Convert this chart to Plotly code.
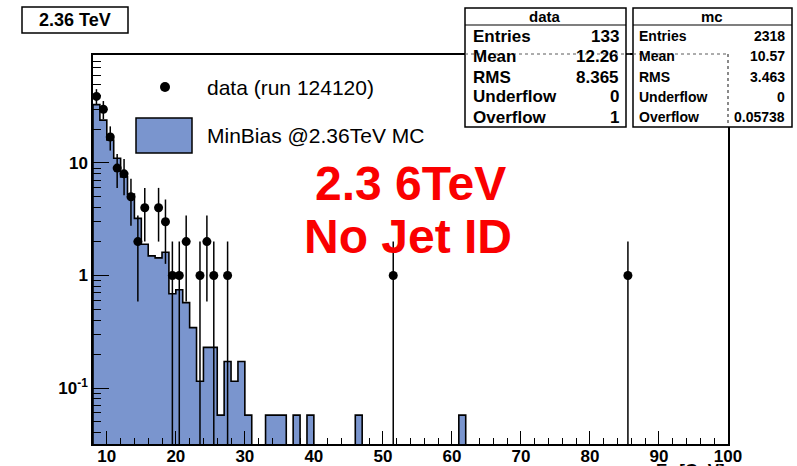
import numpy as np
import plotly.graph_objects as go

# ---------------- data ----------------
# Data histogram (1-unit bins), bin centres and counts
data_x = [8.5, 9.5, 10.5, 11.5, 12.5, 13.5, 14.5, 15.5, 17.5, 18.5,
          19.5, 20.5, 21.5, 23.5, 24.5, 25.5, 27.5, 51.5, 85.5]
data_n = [39, 30, 17, 9, 8, 5, 2, 4, 4, 3,
          1, 1, 2, 1, 2, 1, 1, 1, 1]

# MC histogram: lower bin edges (1-unit bins) and raw MC counts
mc_bin_low = [8, 9, 10, 11, 12, 13, 14, 15, 16, 17, 18, 19, 20, 21, 22,
              23, 24, 25, 26, 27, 28, 29, 30, 33, 34, 35, 37, 39, 46, 61]
mc_counts = [575, 418, 279, 192, 131, 92, 56, 33, 26, 25, 28, 12, 13, 10, 6,
             2, 4, 4, 1, 3, 2, 3, 1, 1, 1, 1, 1, 1, 1, 1]

# statistics boxes
data_entries, mc_entries = 133, 2318
data_stats = [("Entries", "133"), ("Mean", "12.26"), ("RMS", "8.365"),
              ("Underflow", "0"), ("Overflow", "1")]
mc_stats = [("Entries", "2318"), ("Mean", "10.57"), ("RMS", "3.463"),
            ("Underflow", "0"), ("Overflow", "0.05738")]

x_ticks = [10, 20, 30, 40, 50, 60, 70, 80, 90, 100]
y_ticks = [0.1, 1, 10]
y_ticktext = ["10<sup>-1</sup>", "1", "10"]

# ---------------- derived ----------------
mc_weight = data_entries / mc_entries          # MC normalised to data
mc_scaled = [c * mc_weight for c in mc_counts]
mc_centres = [b + 0.5 for b in mc_bin_low]

# full step outline over 8..100 (empty bins dropped well below the axis)
X_MIN, X_MAX = 8, 100
full = np.zeros(X_MAX - X_MIN)
for b, v in zip(mc_bin_low, mc_scaled):
    full[b - X_MIN] = v
floor = 1e-4
step_x = [X_MIN] + list(range(X_MIN, X_MAX)) + [X_MAX]
step_y = [floor] + [v if v > 0 else floor for v in full] + [floor]

data_err = [float(np.sqrt(n)) for n in data_n]

MC_BLUE = "rgb(122,149,206)"
FONT = "Liberation Sans"

# plot frame in page pixels
L, R, T, B = 93, 728, 55, 444
W, H = 797, 466


def px(xp):
    return (xp - L) / (R - L)


def py(yp):
    return (B - yp) / (B - T)


fig = go.Figure()

fig.add_bar(x=mc_centres, y=mc_scaled, width=1.0,
            marker=dict(color=MC_BLUE, line=dict(width=0)),
            showlegend=False, hoverinfo="skip")

fig.add_scatter(x=step_x, y=step_y, mode="lines", line_shape="hv",
                line=dict(color="black", width=1.6),
                showlegend=False, hoverinfo="skip")

fig.add_scatter(x=data_x, y=data_n, mode="markers",
                marker=dict(color="black", size=9),
                error_y=dict(type="data", array=data_err, arrayminus=data_err,
                             color="black", thickness=1.5, width=0),
                showlegend=False)

minor_y = ([k * 0.01 for k in range(4, 10)] + [k * 0.1 for k in range(2, 10)]
           + list(range(2, 10)) + [k * 10 for k in range(2, 10)])

fig.update_xaxes(range=[X_MIN, X_MAX], tickvals=x_ticks, automargin=False,
                 ticks="inside", ticklen=13, tickwidth=1.2, tickcolor="black",
                 ticklabelstandoff=-4,
                 showline=True, linecolor="black", linewidth=1.5, mirror=True,
                 showgrid=False, zeroline=False,
                 tickfont=dict(family=FONT, size=17, color="black", weight="bold"),
                 minor=dict(dtick=2, ticks="inside", ticklen=6, tickwidth=1.2,
                            tickcolor="black", showgrid=False))

fig.update_yaxes(type="log", range=[np.log10(0.0318), np.log10(91)],
                 tickvals=y_ticks, ticktext=y_ticktext, automargin=False,
                 ticks="inside", ticklen=16, tickwidth=1.2, tickcolor="black",
                 showline=True, linecolor="black", linewidth=1.5, mirror=True,
                 showgrid=False, zeroline=False,
                 tickfont=dict(family=FONT, size=17, color="black", weight="bold"),
                 minor=dict(tickvals=minor_y, ticks="inside", ticklen=8,
                            tickwidth=1.2, tickcolor="black", showgrid=False))

shapes = []
annotations = []


def rect(x0, y0, x1, y1, fill="white", lw=1.5):
    shapes.append(dict(type="rect", xref="paper", yref="paper",
                       x0=px(x0), x1=px(x1), y0=py(y0), y1=py(y1),
                       line=dict(color="black", width=lw), fillcolor=fill,
                       layer="above"))


def hline(x0, x1, y, dash="solid", color="black", lw=1.2):
    shapes.append(dict(type="line", xref="paper", yref="paper",
                       x0=px(x0), x1=px(x1), y0=py(y), y1=py(y),
                       line=dict(color=color, width=lw, dash=dash), layer="above"))


def vline(x, y0, y1, dash="solid", color="black", lw=1.2):
    shapes.append(dict(type="line", xref="paper", yref="paper",
                       x0=px(x), x1=px(x), y0=py(y0), y1=py(y1),
                       line=dict(color=color, width=lw, dash=dash), layer="above"))


def text(x, y, s, size, xanchor="center", color="black", bold=True):
    annotations.append(dict(xref="paper", yref="paper", x=px(x), y=py(y),
                            text=s, showarrow=False, xanchor=xanchor,
                            yanchor="middle",
                            font=dict(family=FONT, size=size, color=color,
                                      weight="bold" if bold else "normal")))


# title box
rect(22, 7, 128, 33)
text(75, 20, "2.36 TeV", 18)

# statistics boxes
rows_y = [36, 56, 77, 97, 117]
rect(465, 8, 626, 127)
hline(465, 626, 25)
text(545, 16, "data", 15)
for (lab, val), yy in zip(data_stats, rows_y):
    text(471, yy, lab, 17, xanchor="left")
    text(621, yy, val, 17, xanchor="right")

rect(633, 8, 792, 127)
hline(633, 792, 25)
text(712, 16, "mc", 15)
for (lab, val), yy in zip(mc_stats, rows_y):
    text(637, yy, lab, 14, xanchor="left")
    text(787, yy, val, 14, xanchor="right")

# frame edges seen through the boxes
hline(465, 728, 54, dash="dot", color="rgb(90,90,90)", lw=1)
vline(728, 54, 127, dash="dot", color="rgb(60,60,60)", lw=1.2)

# legend
shapes.append(dict(type="circle", xref="paper", yref="paper",
                   x0=px(160), x1=px(170), y0=py(82), y1=py(92),
                   fillcolor="black", line=dict(color="black", width=0),
                   layer="above"))
text(205, 87, "data (run 124120)", 21, xanchor="left", bold=False)
rect(136, 118, 192, 153, fill=MC_BLUE)
text(205, 135, "MinBias @2.36TeV MC", 21, xanchor="left", bold=False)

# big red labels
text(410, 183, "2.3 6TeV", 48, color="rgb(250,0,0)")
text(408, 236, "No Jet ID", 48, color="rgb(250,0,0)")

# x-axis title, sitting at the very bottom edge of the page
annotations.append(dict(xref="paper", yref="paper", x=px(727), y=py(459),
                        text="E<sub>T</sub> [GeV]", showarrow=False,
                        xanchor="right", yanchor="top",
                        font=dict(family=FONT, size=17, color="black",
                                  weight="bold")))

fig.update_layout(width=W, height=H,
                  margin=dict(l=L, r=W - R, t=T, b=H - B, pad=0, autoexpand=False),
                  paper_bgcolor="white", plot_bgcolor="white",
                  bargap=0, showlegend=False,
                  shapes=shapes, annotations=annotations)

fig.write_html("out.html")
